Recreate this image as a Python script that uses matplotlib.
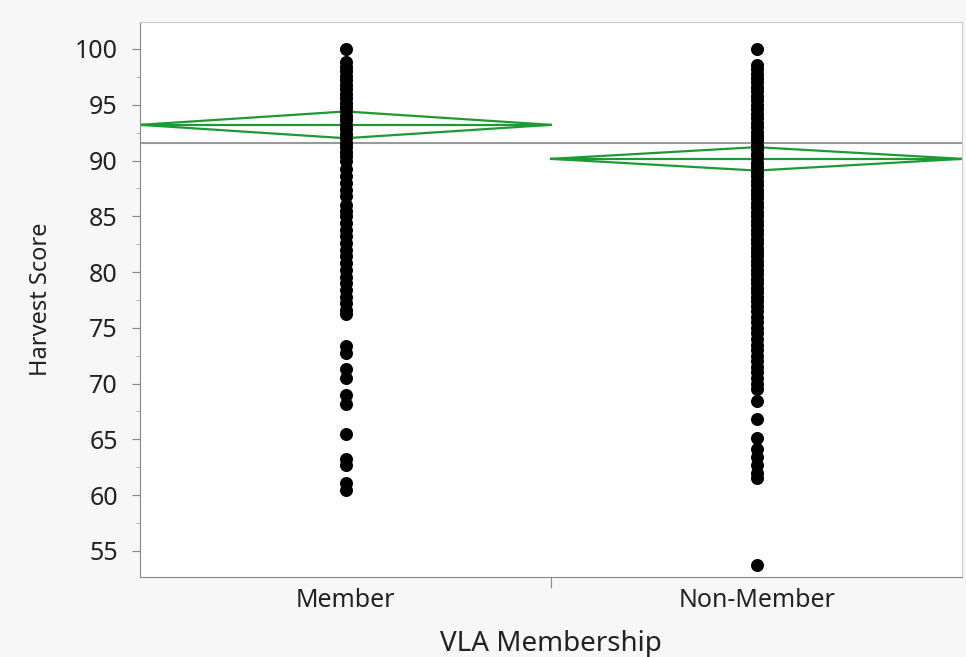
import matplotlib
matplotlib.use("Agg")
import matplotlib.pyplot as plt
from matplotlib.ticker import MultipleLocator

plt.rcParams['font.family'] = ['Noto Sans', 'DejaVu Sans']

# groups and their values
groups = ["Member", "Non-Member"]

member_scores = [100, 98.8, 98.4, 98.0, 97.6, 97.2, 96.8, 96.4, 96.0, 95.6, 95.2,
                 94.8, 94.4, 94.0, 93.6, 93.2, 92.8, 92.4, 92.0, 91.6, 91.2, 90.8,
                 90.4, 90.0, 89.2, 88.6, 88.0, 87.4, 86.8, 86.0, 85.5, 85.0, 84.4,
                 83.8, 83.2, 82.6, 82.0, 81.4, 80.8, 80.2, 79.6, 79.0, 78.4, 77.8,
                 77.2, 76.6, 76.2, 73.4, 72.7, 71.3, 70.5, 69.0, 68.2, 65.5, 63.2,
                 62.7, 61.1, 60.5]

nonmember_scores = [100, 98.6, 98.2, 97.8, 97.4, 97.0, 96.6, 96.2, 95.8, 95.4, 95.0,
                    94.6, 94.2, 93.8, 93.4, 93.0, 92.6, 92.2, 91.8, 91.4, 91.0, 90.6,
                    90.2, 89.8, 89.4, 89.0, 88.6, 88.2, 87.8, 87.4, 87.0, 86.6, 86.2,
                    85.8, 85.4, 85.0, 84.6, 84.2, 83.8, 83.4, 83.0, 82.6, 82.2, 81.8,
                    81.4, 81.0, 80.6, 80.2, 79.8, 79.4, 79.0, 78.6, 78.2, 77.8, 77.4,
                    77.0, 76.5, 76.0, 75.5, 75.0, 74.5, 74.0, 73.5, 73.0, 72.5, 72.0,
                    71.5, 71.0, 70.5, 70.0, 69.5, 68.4, 66.8, 65.1, 64.1, 63.4, 62.7,
                    62.0, 61.5, 53.7]

group_means = [93.2, 90.15]
ci_half = [1.2, 1.05]
grand_mean = 91.6

fig = plt.figure(figsize=(9.66, 6.57), dpi=100)
fig.patch.set_facecolor('#f7f7f7')
ax = fig.add_axes([0.145, 0.122, 0.851, 0.8445])
ax.set_facecolor('white')

green = '#1e9a34'
for i, (m, c) in enumerate(zip(group_means, ci_half)):
    x0, xc, x1 = i, i + 0.5, i + 1
    ax.plot([x0, xc, x1, xc, x0], [m, m + c, m, m - c, m], color=green, lw=1.6, zorder=2)
    ax.plot([x0, x1], [m, m], color=green, lw=1.6, zorder=2)

ax.axhline(grand_mean, color='#9a9a9a', lw=1.5, zorder=1)

for i, vals in enumerate([member_scores, nonmember_scores]):
    ax.scatter([i + 0.5] * len(vals), vals, s=88, color='black', zorder=3, linewidths=0)

ax.set_xlim(0, 2)
ax.set_ylim(52.67, 102.42)
ax.yaxis.set_major_locator(MultipleLocator(5))
ax.yaxis.set_minor_locator(MultipleLocator(2.5))
ax.set_xticks([1])
ax.set_xticklabels([''])
ax.set_xticks([0.5, 1.5], minor=True)
ax.set_xticklabels(groups, minor=True)
ax.tick_params(axis='x', which='minor', length=0, labelsize=18, pad=8, colors='#222222')
ax.tick_params(axis='x', which='major', length=8, color='#888888')
ax.tick_params(axis='y', which='major', length=6, pad=10, labelsize=18, color='#888888', labelcolor='#222222')
ax.tick_params(axis='y', which='minor', length=3, color='#aaaaaa')

for side in ['top', 'right']:
    ax.spines[side].set_color('#cccccc')
for side in ['left', 'bottom']:
    ax.spines[side].set_color('#888888')

ax.set_xlabel('VLA Membership', fontsize=20, color='#222222', labelpad=12)
ax.set_ylabel('Harvest Score', fontsize=17, color='#222222', labelpad=16)

fig.savefig('out.png', dpi=100, facecolor=fig.get_facecolor())
